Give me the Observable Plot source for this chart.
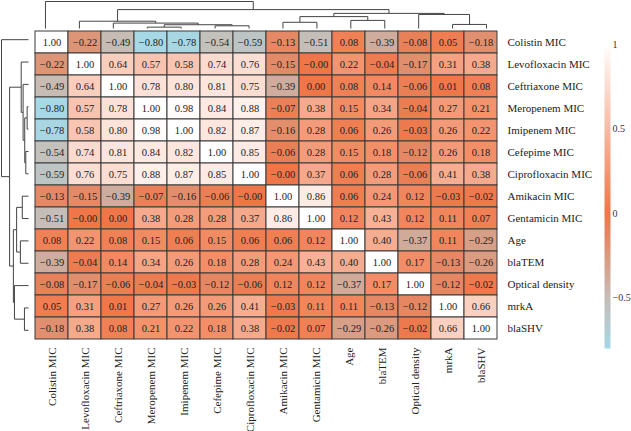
<!DOCTYPE html>
<html>
<head>
<meta charset="utf-8">
<script src="https://cdn.jsdelivr.net/npm/d3@7"></script>
<script src="https://cdn.jsdelivr.net/npm/@observablehq/plot@0.6"></script>
<style>
  html, body { margin: 0; padding: 0; background: #fff; }
  #wrap { position: relative; width: 631px; height: 431px; }
  #wrap > svg, #wrap > figure { position: absolute; margin: 0; }
</style>
</head>
<body>
<div id="wrap"></div>
<script>
// ---- data ----
const vars = ["Colistin MIC", "Levofloxacin MIC", "Ceftriaxone MIC", "Meropenem MIC", "Imipenem MIC",
  "Cefepime MIC", "Ciprofloxacin MIC", "Amikacin MIC", "Gentamicin MIC", "Age", "blaTEM",
  "Optical density", "mrkA", "blaSHV"];

const corr = [
  [1.00, -0.22, -0.49, -0.80, -0.78, -0.54, -0.59, -0.13, -0.51, 0.08, -0.39, -0.08, 0.05, -0.18],
  [-0.22, 1.00, 0.64, 0.57, 0.58, 0.74, 0.76, -0.15, -0.00, 0.22, -0.04, -0.17, 0.31, 0.38],
  [-0.49, 0.64, 1.00, 0.78, 0.80, 0.81, 0.75, -0.39, 0.00, 0.08, 0.14, -0.06, 0.01, 0.08],
  [-0.80, 0.57, 0.78, 1.00, 0.98, 0.84, 0.88, -0.07, 0.38, 0.15, 0.34, -0.04, 0.27, 0.21],
  [-0.78, 0.58, 0.80, 0.98, 1.00, 0.82, 0.87, -0.16, 0.28, 0.06, 0.26, -0.03, 0.26, 0.22],
  [-0.54, 0.74, 0.81, 0.84, 0.82, 1.00, 0.85, -0.06, 0.28, 0.15, 0.18, -0.12, 0.26, 0.18],
  [-0.59, 0.76, 0.75, 0.88, 0.87, 0.85, 1.00, -0.00, 0.37, 0.06, 0.28, -0.06, 0.41, 0.38],
  [-0.13, -0.15, -0.39, -0.07, -0.16, -0.06, -0.00, 1.00, 0.86, 0.06, 0.24, 0.12, -0.03, -0.02],
  [-0.51, -0.00, 0.00, 0.38, 0.28, 0.28, 0.37, 0.86, 1.00, 0.12, 0.43, 0.12, 0.11, 0.07],
  [0.08, 0.22, 0.08, 0.15, 0.06, 0.15, 0.06, 0.06, 0.12, 1.00, 0.40, -0.37, 0.11, -0.29],
  [-0.39, -0.04, 0.14, 0.34, 0.26, 0.18, 0.28, 0.24, 0.43, 0.40, 1.00, 0.17, -0.13, -0.26],
  [-0.08, -0.17, -0.06, -0.04, -0.03, -0.12, -0.06, 0.12, 0.12, -0.37, 0.17, 1.00, -0.12, -0.02],
  [0.05, 0.31, 0.01, 0.27, 0.26, 0.26, 0.41, -0.03, 0.11, 0.11, -0.13, -0.12, 1.00, 0.66],
  [-0.18, 0.38, 0.08, 0.21, 0.22, 0.18, 0.38, -0.02, 0.07, -0.29, -0.26, -0.02, 0.66, 1.00]
];

// hierarchical clustering merges: [child A, child B, relative height]; "mN" = N-th merge
const merges = [
  ["Meropenem MIC", "Imipenem MIC", 0.05],   // m0
  ["Cefepime MIC", "Ciprofloxacin MIC", 0.10], // m1
  ["m0", "m1", 0.14],                       // m2
  ["Ceftriaxone MIC", "m2", 0.20],          // m3
  ["Levofloxacin MIC", "m3", 0.27],         // m4
  ["Amikacin MIC", "Gentamicin MIC", 0.23], // m5
  ["Age", "blaTEM", 0.30],                  // m6
  ["m5", "m6", 0.44],                       // m7
  ["mrkA", "blaSHV", 0.15],                 // m8
  ["Optical density", "m8", 0.52],          // m9
  ["m7", "m9", 0.56],                       // m10
  ["m4", "m10", 0.70],                      // m11
  ["Colistin MIC", "m11", 1.00]             // m12
];

const legendTicks = [1, 0.5, 0, -0.5];
const colorDomain = [-0.8, -0.5, 0, 1];
const colorRange = ["#a6d8e6", "#c6bdb6", "#ef7648", "#ffffff"];

// ---- helpers ----
const fmt = v => (v < 0 || Object.is(v, -0) ? "\u2212" : "") + Math.abs(v).toFixed(2);
const colorOpts = {type: "linear", domain: colorDomain, range: colorRange, interpolate: "rgb", clamp: true};
const FONT = "Liberation Serif, Times New Roman, serif";

const cells = vars.flatMap((r, i) => vars.map((c, j) => ({row: r, col: c, r: corr[i][j]})));

function dendroSegments() {
  const pos = new Map(vars.map((v, i) => [v, {p: i + 0.5, h: 0}]));
  const segs = [];
  merges.forEach(([a, b, h], k) => {
    const A = pos.get(a), B = pos.get(b);
    segs.push({p1: A.p, h1: A.h, p2: A.p, h2: h});
    segs.push({p1: B.p, h1: B.h, p2: B.p, h2: h});
    segs.push({p1: A.p, h1: h, p2: B.p, h2: h});
    pos.set("m" + k, {p: (A.p + B.p) / 2, h});
  });
  return segs;
}
const segs = dendroSegments();

const wrap = document.getElementById("wrap");

// ---- main heatmap ----
const mainPlot = Plot.plot({
  width: 631, height: 431,
  marginLeft: 28, marginTop: 28, marginRight: 128, marginBottom: 90,
  style: {fontFamily: FONT, color: "#222", background: "transparent"},
  x: {domain: vars, padding: 0, axis: null},
  y: {domain: vars, padding: 0, axis: null},
  color: colorOpts,
  marks: [
    Plot.cell(cells, {x: "col", y: "row", fill: "r", inset: 0, stroke: "#3a3a3a", strokeWidth: 1}),
    Plot.text(cells, {x: "col", y: "row", text: d => fmt(d.r), fontSize: 10.5, fill: "#222"}),
    Plot.axisX({anchor: "bottom", tickRotate: -90, tickSize: 0, tickPadding: 6, fontSize: 11, label: null}),
    Plot.axisY({anchor: "right", tickSize: 0, tickPadding: 4, fontSize: 11, label: null})
  ]
});
mainPlot.style.left = "0px"; mainPlot.style.top = "0px";
wrap.appendChild(mainPlot);

// ---- top dendrogram ----
const topDendro = Plot.plot({
  width: 631, height: 29,
  marginLeft: 28, marginRight: 128, marginTop: 1, marginBottom: 1,
  style: {background: "transparent"},
  x: {type: "linear", domain: [0, vars.length], axis: null},
  y: {type: "linear", domain: [0, 1], axis: null},
  marks: [
    Plot.link(segs, {x1: "p1", y1: "h1", x2: "p2", y2: "h2", stroke: "#444", strokeWidth: 1})
  ]
});
topDendro.style.left = "0px"; topDendro.style.top = "0px";
wrap.appendChild(topDendro);

// ---- left dendrogram ----
const leftDendro = Plot.plot({
  width: 29, height: 431,
  marginLeft: 1, marginRight: 1, marginTop: 28, marginBottom: 90,
  style: {background: "transparent"},
  x: {type: "linear", domain: [1, 0], axis: null},
  y: {type: "linear", domain: [0, vars.length], reverse: true, axis: null},
  marks: [
    Plot.link(segs, {x1: "h1", y1: "p1", x2: "h2", y2: "p2", stroke: "#444", strokeWidth: 1})
  ]
});
leftDendro.style.left = "0px"; leftDendro.style.top = "0px";
wrap.appendChild(leftDendro);

// ---- color bar ----
const colorBar = Plot.plot({
  width: 41, height: 431,
  marginLeft: 14, marginRight: 21, marginTop: 44, marginBottom: 83,
  style: {fontFamily: FONT, color: "#333", background: "transparent"},
  x: {type: "linear", domain: [0, 1], axis: null},
  y: {type: "linear", domain: [colorDomain[0], 1]},
  color: colorOpts,
  marks: [
    Plot.raster({fill: (x, y) => y, x1: 0, x2: 1, y1: colorDomain[0], y2: 1, width: 2, height: 200, imageRendering: "auto"}),
    Plot.axisY({anchor: "right", ticks: legendTicks, tickFormat: v => (v < 0 ? "\u2212" : "") + Math.abs(v), tickSize: 0, tickPadding: 2, fontSize: 10, label: null})
  ]
});
colorBar.style.left = "590px"; colorBar.style.top = "0px";
wrap.appendChild(colorBar);
</script>
</body>
</html>
